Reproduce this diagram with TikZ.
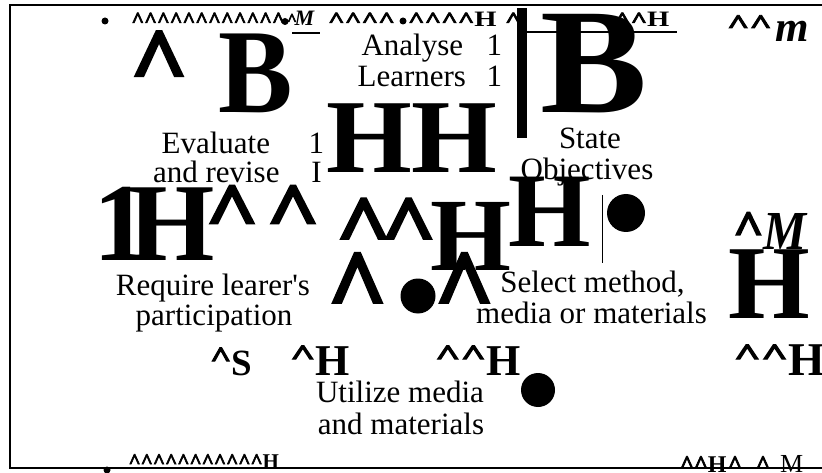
\documentclass[tikz,border=0pt]{standalone}
\usepackage{graphicx}
\usepackage{fontspec}
\setmainfont{Liberation Serif}
\newfontface\crtface{Liberation Serif Bold}[FakeBold=3]
\newcommand\bsz[1]{\fontsize{#1}{#1}\selectfont\bfseries}
\newcommand\bisz[1]{\fontsize{#1}{#1}\selectfont\bfseries\itshape}
\newcommand\crt{{\crtface\textasciicircum}}
% flattened caret: #1 = vertical scale, #2 = raise
\newcommand\crtv[2]{\raisebox{#2}{\scalebox{1}[#1]{\crt}}}
\tikzset{
  glyph/.style={inner sep=0pt, outer sep=0pt, anchor=base west},
  txt/.style={inner sep=0pt, outer sep=0pt, anchor=base, font=\fontsize{31}{31}\selectfont},
  txtw/.style={inner sep=0pt, outer sep=0pt, anchor=base west, font=\fontsize{31}{31}\selectfont},
  frame/.style={line width=1.3pt},
}
\begin{document}
\begin{tikzpicture}[x=1pt,y=-1pt]
\useasboundingbox (0,0) rectangle (822,473);
\clip (0,0) rectangle (822,473);
\fill[white] (0,0) rectangle (822,473);

% top row
\fill (105,21) circle (3.5);
\node[glyph,font=\bsz{22}] (t1) at (131.4,27) {\crt\crt\crt\crt\crt\crt\crt\crt\crt\crt\crt\crt};
\fill (285,21.5) circle (3.5);
\node[glyph,font=\bsz{17}] (t2) at (287,25) {\crt};
\node[glyph,font=\bisz{22}] (t3) at (294.5,26) {M};
\draw[line width=1.3pt] (292,33) -- (320,33);
\node[glyph,font=\bsz{22}] (t4) at (328,27) {\scalebox{1.31}[1]{\crt\crt\crt\crt}};
\fill (403,21) circle (3.5);
\node[glyph,font=\bsz{22}] (t5) at (408,27) {\scalebox{1.3}[1]{\crt\crt\crt\crt H}};
\node[glyph,font=\bsz{22}] (t6) at (505,27) {\scalebox{1.3}[1]{\crt}};
\node[glyph,font=\bsz{22}] (t7) at (614,27) {\scalebox{1.3}[1]{\crt\crt H}};
\node[glyph,font=\bsz{27}] (t8) at (727,33) {\scalebox{1.43}[1]{\crt\crt}};
\node[glyph,font=\bisz{43}] (t9) at (775,42) {m};

% bars
\fill (517,8) rectangle (527,138);
\draw[line width=2.7pt] (527,32) -- (677,32);
\draw[line width=1pt] (602,195) -- (602,263);

% big glyphs
\node[glyph,font=\bsz{100}] (g1) at (130,93.8) {\scalebox{1}[0.95]{\crt}};
\node[glyph,font=\bsz{120}] (g2) at (218,113) {\scalebox{0.93}[1]{B}};
\node[glyph,font=\bsz{150}] (g3) at (540.5,113) {\scalebox{1.07}[1]{B}};
\node[glyph,font=\bsz{105}] (g4) at (326,173) {\scalebox{1.05}[1]{HH}};
\node[glyph,font=\bsz{111}] (g5) at (93.2,260) {1};
\node[glyph,font=\bsz{111}] (g6) at (128,260) {H};
\node[glyph,font=\bsz{92}] (g7) at (205.3,238.5) {\scalebox{1}[0.875]{\crt}};
\node[glyph,font=\bsz{92}] (g8) at (266.3,238.5) {\scalebox{1}[0.875]{\crt}};
\node[glyph,font=\bsz{95}] (g9) at (336,254.7) {\scalebox{1}[0.9]{\crt}};
\node[glyph,font=\bsz{95}] (g10) at (381,254.7) {\scalebox{1}[0.9]{\crt}};
\node[glyph,font=\bsz{104}] (g11) at (430,270) {H};
\node[glyph,font=\bsz{106}] (g12) at (508,247) {H};
\node[glyph,font=\bsz{103}] (g13) at (327.5,322.2) {\scalebox{1}[1.02]{\crt}};
\node[glyph,font=\bsz{103}] (g14) at (434.5,322.2) {\scalebox{1}[1.02]{\crt}};
\fill (418,296) circle (17.5);
\fill (626,213) circle (19);
\fill (538,390) circle (17);
\node[glyph,font=\bsz{53}] (g15) at (733,244.2) {\scalebox{1}[0.92]{\crt}};
\node[glyph,font=\bisz{55}] (g16) at (763.7,250) {\scalebox{0.88}[1]{M}};
\node[glyph,font=\bsz{105}] (g17) at (728,318) {H};
\node[glyph,font=\bsz{47}] (g18) at (733.6,375) {\crtv{0.67}{9.8pt}\crtv{0.67}{9.8pt}H};
\node[glyph,font=\bsz{44}] (g19) at (435,375) {\crtv{0.665}{10.3pt}\crtv{0.665}{10.3pt}H};
\node[glyph,font=\bsz{44}] (g20) at (290,375) {\crtv{0.665}{10.3pt}H};
\node[glyph,font=\bsz{37}] (g21) at (210,375) {\crtv{0.79}{8.3pt}S};

% texts
\node[txtw] (a1) at (361.5,56) {Analyse};
\node[txtw] (a2) at (486.5,56) {1};
\node[txtw] (l1) at (357.6,87) {Learners};
\node[txtw] (l2) at (486.5,87) {1};
\node[txtw] (e1) at (161.6,154) {Evaluate};
\node[txtw] (e2) at (308.6,154) {1};
\node[txtw] (r1) at (153,183) {and revise};
\node[txtw] (r2) at (311.4,183) {I};
\node[txt] (s1) at (590,149) {State};
\node[txt] (s2) at (587,180) {Objectives};
\node[txt] (q1) at (213,295) {Require learer\textquotesingle s};
\node[txt] (q2) at (214,325) {participation};
\node[txt] (m1) at (592.5,292) {Select method,};
\node[txt] (m2) at (591.5,323) {media or materials};
\node[txt] (u1) at (400,402) {Utilize media};
\node[txt] (u2) at (401,434) {and materials};

% bottom row
\fill (107,470) circle (3.5);
\node[glyph,font=\bsz{21}] (b1) at (128.5,468) {\crt\crt\crt\crt\crt\crt\crt\crt\crt\crt\crt H};
\node[glyph,font=\bsz{24}] (b2) at (680,472) {\crt\crt H};
\node[glyph,font=\bsz{24}] (b3) at (728,472) {\crt};
\node[glyph,font=\bsz{24}] (b4) at (756,472) {\crt};
\node[glyph,font=\fontsize{26}{26}\selectfont] (b5) at (780,472) {M};

% frame
\draw[frame] (823,5) -- (10,5) -- (10,468) -- (823,468);
\end{tikzpicture}
\end{document}
